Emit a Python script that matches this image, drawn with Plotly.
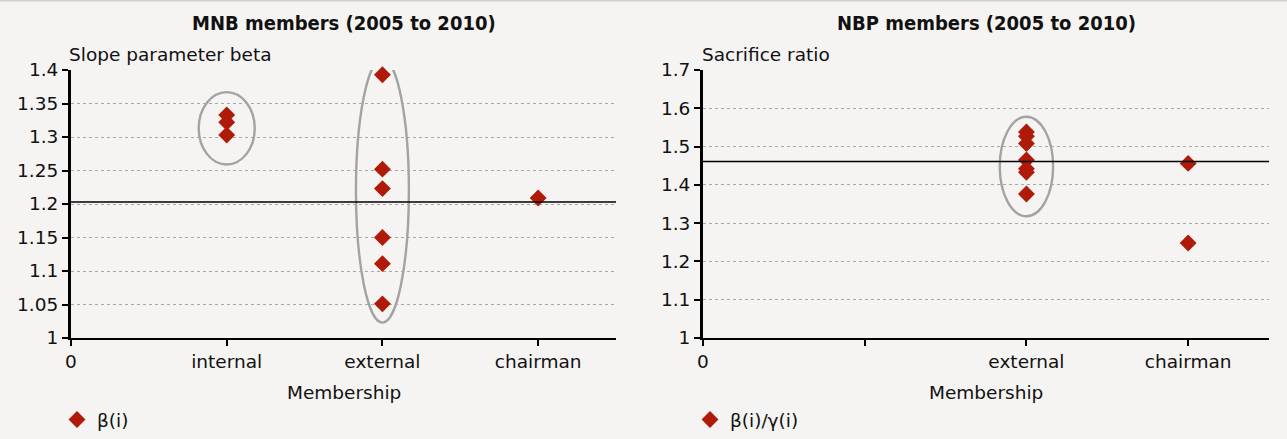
import plotly.graph_objects as go

# ---- data ----
mnb_categories = ["internal", "external", "chairman"]
mnb_internal = [1.333, 1.322, 1.303]
mnb_external = [1.393, 1.252, 1.223, 1.150, 1.111, 1.051]
mnb_chairman = [1.209]
mnb_line = 1.203

nbp_categories = ["external", "chairman"]
nbp_external = [1.538, 1.527, 1.508, 1.465, 1.442, 1.433, 1.376]
nbp_chairman = [1.456, 1.248]
nbp_line = 1.461

left_ticks = ["0", "internal", "external", "chairman"]
right_ticks = ["0", "", "external", "chairman"]
left_yticks = [1, 1.05, 1.1, 1.15, 1.2, 1.25, 1.3, 1.35, 1.4]
right_yticks = [1, 1.1, 1.2, 1.3, 1.4, 1.5, 1.6, 1.7]

FONT = "DejaVu Sans, sans-serif"
TFONT = "DejaVu Sans Condensed, DejaVu Sans, sans-serif"
RED = "#b01a08"
BG = "#f5f4f2"
W, H = 1287, 439
FS = 18.5

def ylab(v):
    return f"{v:.2f}".rstrip("0").rstrip(".")

fig = go.Figure()

mnb_x = [1] * len(mnb_internal) + [2] * len(mnb_external) + [3] * len(mnb_chairman)
mnb_y = mnb_internal + mnb_external + mnb_chairman
fig.add_trace(go.Scatter(x=mnb_x, y=mnb_y, mode="markers", name="β(i)",
                         marker=dict(symbol="diamond", size=13, color=RED),
                         xaxis="x", yaxis="y", legend="legend", cliponaxis=False))

nbp_x = [2] * len(nbp_external) + [3] * len(nbp_chairman)
nbp_y = nbp_external + nbp_chairman
fig.add_trace(go.Scatter(x=nbp_x, y=nbp_y, mode="markers", name="β(i)/γ(i)",
                         marker=dict(symbol="diamond", size=13, color=RED),
                         xaxis="x2", yaxis="y2", legend="legend2", cliponaxis=False))

ydom = [1 - 338 / H, 1 - 70 / H]
ldom = [71 / W, 616 / W]
rdom = [703 / W, 1269 / W]

axis_common = dict(showline=True, linecolor="black", mirror=False,
                   tickfont=dict(family=FONT, size=FS, color="#111"),
                   zeroline=False, automargin=False)

fig.update_layout(
    template="none",
    width=W, height=H,
    margin=dict(l=0, r=0, t=0, b=0, pad=0, autoexpand=False),
    paper_bgcolor=BG, plot_bgcolor=BG,
    font=dict(family=FONT, size=FS, color="#111"),
    hovermode=False,
    xaxis=dict(domain=ldom, anchor="y", range=[0, 3.5], tickvals=[0, 1, 2, 3],
               ticktext=left_ticks, ticks="outside", ticklen=6, tickwidth=2,
               tickcolor="black", linewidth=2, showgrid=False, **axis_common),
    yaxis=dict(domain=ydom, anchor="x", range=[1, 1.4], tickvals=left_yticks,
               ticktext=[ylab(v) for v in left_yticks], ticks="outside", ticklen=6,
               tickwidth=2, tickcolor="black", linewidth=3, showgrid=True,
               gridcolor="#a8a8a8", griddash="dot", gridwidth=1, **axis_common),
    xaxis2=dict(domain=rdom, anchor="y2", range=[0, 3.5], tickvals=[0, 1, 2, 3],
                ticktext=right_ticks, ticks="outside", ticklen=6, tickwidth=2,
                tickcolor="black", linewidth=2, showgrid=False, **axis_common),
    yaxis2=dict(domain=ydom, anchor="x2", range=[1, 1.7], tickvals=right_yticks,
                ticktext=[ylab(v) for v in right_yticks], ticks="outside", ticklen=6,
                tickwidth=2, tickcolor="black", linewidth=3, showgrid=True,
                gridcolor="#a8a8a8", griddash="dot", gridwidth=1, **axis_common),
    legend=dict(x=57 / W, y=0.0, xanchor="left", yanchor="bottom",
                bgcolor="rgba(0,0,0,0)", font=dict(family=FONT, size=FS),
                itemwidth=30, tracegroupgap=0),
    legend2=dict(x=690 / W, y=0.0, xanchor="left", yanchor="bottom",
                 bgcolor="rgba(0,0,0,0)", font=dict(family=FONT, size=FS),
                 itemwidth=30, tracegroupgap=0),
    showlegend=True,
)

ann = []
ann.append(dict(text="<b>MNB members (2005 to 2010)</b>", x=(ldom[0] + ldom[1]) / 2,
                y=1 - 23 / H, xref="paper", yref="paper", showarrow=False,
                font=dict(family=TFONT, size=20), xanchor="center", yanchor="middle"))
ann.append(dict(text="<b>NBP members (2005 to 2010)</b>", x=(rdom[0] + rdom[1]) / 2,
                y=1 - 23 / H, xref="paper", yref="paper", showarrow=False,
                font=dict(family=TFONT, size=20), xanchor="center", yanchor="middle"))
ann.append(dict(text="Slope parameter beta", x=67 / W, y=1 - 55 / H, xref="paper",
                yref="paper", showarrow=False, xanchor="left", yanchor="middle",
                font=dict(family=FONT, size=FS)))
ann.append(dict(text="Sacrifice ratio", x=700 / W, y=1 - 55 / H, xref="paper",
                yref="paper", showarrow=False, xanchor="left", yanchor="middle",
                font=dict(family=FONT, size=FS)))
ann.append(dict(text="Membership", x=(ldom[0] + ldom[1]) / 2, y=1 - 392 / H,
                xref="paper", yref="paper", showarrow=False, xanchor="center",
                yanchor="middle", font=dict(family=FONT, size=FS)))
ann.append(dict(text="Membership", x=(rdom[0] + rdom[1]) / 2, y=1 - 392 / H,
                xref="paper", yref="paper", showarrow=False, xanchor="center",
                yanchor="middle", font=dict(family=FONT, size=FS)))
fig.update_layout(annotations=ann)

shapes = []
shapes.append(dict(type="line", xref="paper", yref="paper", x0=0, x1=1, y0=1, y1=1,
                   line=dict(color="#d3cfca", width=3)))
shapes.append(dict(type="line", xref="x domain", yref="y", x0=0, x1=1,
                   y0=mnb_line, y1=mnb_line, line=dict(color="black", width=1.3)))
shapes.append(dict(type="line", xref="x2 domain", yref="y2", x0=0, x1=1,
                   y0=nbp_line, y1=nbp_line, line=dict(color="black", width=1.3)))

def ellipse(xref, yref, cx, half_w, vals, pad_lo, pad_hi):
    return dict(type="circle", xref=xref, yref=yref, x0=cx - half_w, x1=cx + half_w,
                y0=min(vals) - pad_lo, y1=max(vals) + pad_hi,
                line=dict(color="#a3a3a3", width=2.4), layer="below")

shapes.append(ellipse("x", "y", 1, 0.18, mnb_internal, 0.044, 0.034))
shapes.append(ellipse("x", "y", 2, 0.17, mnb_external, 0.028, 0.024))
shapes.append(ellipse("x2", "y2", 2, 0.165, nbp_external, 0.058, 0.040))
fig.update_layout(shapes=shapes)

fig.write_html("out.html",
               config={"displayModeBar": False},
               post_script="document.body.style.margin='0';document.body.style.padding='0';"
                           "document.body.style.overflow='hidden';")
